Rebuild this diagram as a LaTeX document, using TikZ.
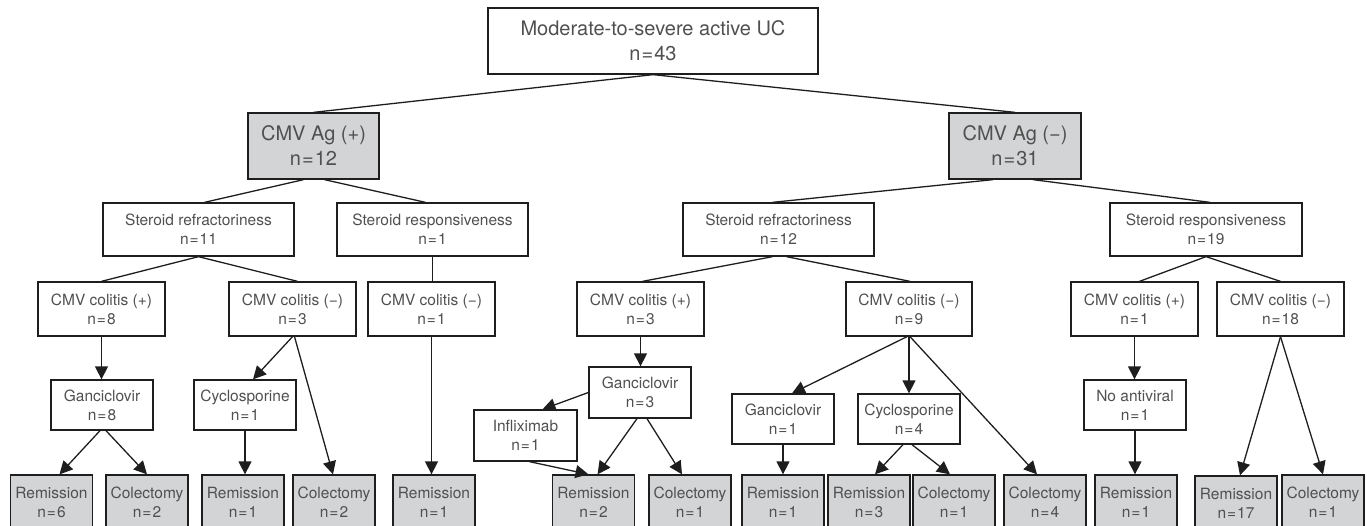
\documentclass[tikz,border=0pt]{standalone}
\usepackage{fontspec}
\setmainfont{TeX Gyre Heros}
\usetikzlibrary{arrows.meta}
\definecolor{boxgray}{RGB}{211,212,214}
\definecolor{txt}{RGB}{80,80,80}
\definecolor{ln}{RGB}{30,30,30}
\newcommand\myeq{\kern1pt=\kern1pt}
\begin{document}
\begin{tikzpicture}[x=1pt,y=-1pt,
 box/.style={draw=ln, line width=1.3pt, inner sep=0pt, align=center, text=txt, font=\fontsize{15.5}{19}\selectfont},
 big/.style={box, font=\fontsize{20}{25}\selectfont, minimum height=66pt},
 shade/.style={fill=boxgray},
 lvl/.style={box, minimum width=191pt, minimum height=53pt},
 cc/.style={box, minimum width=127pt, minimum height=54pt},
 trt/.style={box, minimum width=102pt, minimum height=50pt},
 leaf/.style={box, shade, minimum width=82pt, minimum height=54pt},
 conn/.style={draw=ln, line width=1.3pt},
 arr/.style={conn, -{Triangle[width=13pt,length=13pt]}},
]
\useasboundingbox (0,0) rectangle (1367,525);

% level 1-2
\node[big, minimum width=330pt] (top) at (653,41) {Moderate-to-severe active UC\\n\myeq43};
\node[big, shade, minimum width=131pt] (agp) at (313.5,146) {CMV Ag (+)\\n\myeq12};
\node[big, shade, minimum width=132pt] (agn) at (1015,146) {CMV Ag (−)\\n\myeq31};

% level 3
\node[lvl] (sr11) at (198.5,229.5) {Steroid refractoriness\\n\myeq11};
\node[lvl] (sp1) at (432.5,229.5) {Steroid responsiveness\\n\myeq1};
\node[lvl] (sr12) at (778.5,229.5) {Steroid refractoriness\\n\myeq12};
\node[lvl, minimum width=192pt] (sp19) at (1206,229.5) {Steroid responsiveness\\n\myeq19};

% level 4
\node[cc] (cc8) at (101.5,309) {CMV colitis (+)\\n\myeq8};
\node[cc] (cc3) at (292.5,309) {CMV colitis (−)\\n\myeq3};
\node[cc] (cc1) at (431.5,309) {CMV colitis (−)\\n\myeq1};
\node[cc] (ccp3) at (640.5,309) {CMV colitis (+)\\n\myeq3};
\node[cc, minimum width=126pt] (cc9) at (909,309) {CMV colitis (−)\\n\myeq9};
\node[cc] (ccp1) at (1134.5,309) {CMV colitis (+)\\n\myeq1};
\node[cc] (cc18) at (1280.5,309) {CMV colitis (−)\\n\myeq18};

% level 5
\node[trt] (gan8) at (102,405) {Ganciclovir\\n\myeq8};
\node[trt] (cyc1) at (245,405) {Cyclosporine\\n\myeq1};
\node[trt, minimum height=51pt] (gan3) at (640,392.5) {Ganciclovir\\n\myeq3};
\node[trt, minimum width=103pt, minimum height=51pt] (inf1) at (525.5,435.5) {Infliximab\\n\myeq1};
\node[trt] (gan1) at (783,419) {Ganciclovir\\n\myeq1};
\node[trt] (cyc4) at (909,419) {Cyclosporine\\n\myeq4};
\node[trt] (noav) at (1135,405) {No antiviral\\n\myeq1};

% leaves
\node[leaf] (rem6) at (51.5,502) {Remission\\n\myeq6};
\node[leaf] (col2) at (147,502) {Colectomy\\n\myeq2};
\node[leaf] (rem1) at (243,502) {Remission\\n\myeq1};
\node[leaf] (col2b) at (334,502) {Colectomy\\n\myeq2};
\node[leaf] (rem1b) at (434,502) {Remission\\n\myeq1};
\node[leaf] (rem2) at (593.5,502) {Remission\\n\myeq2};
\node[leaf] (col1) at (690,502) {Colectomy\\n\myeq1};
\node[leaf] (rem1c) at (783,502) {Remission\\n\myeq1};
\node[leaf] (rem3) at (869,502) {Remission\\n\myeq3};
\node[leaf] (col1b) at (954,502) {Colectomy\\n\myeq1};
\node[leaf] (col4) at (1045,502) {Colectomy\\n\myeq4};
\node[leaf] (rem1d) at (1136,502) {Remission\\n\myeq1};
\node[leaf] (rem17) at (1236,503) {Remission\\n\myeq17};
\node[leaf] (col1c) at (1323,502) {Colectomy\\n\myeq1};

% plain connectors
\draw[conn] (top.south) -- (agp.north);
\draw[conn] (top.south) -- (agn.north);
\draw[conn] ([xshift=-10pt]agp.south) -- ([xshift=6pt]sr11.north);
\draw[conn] ([xshift=11pt]agp.south) -- ([xshift=-7pt]sp1.north);
\draw[conn] ([xshift=-22pt]agn.south) -- ([xshift=-6pt]sr12.north);
\draw[conn] ([xshift=18pt]agn.south) -- ([xshift=4pt]sp19.north);
\draw[conn] (sr11.south) -- (cc8.north);
\draw[conn] (sr11.south) -- ([xshift=5pt]cc3.north);
\draw[conn] (sp1.south) -- (sp1.south |- cc1.north);
\draw[conn] ([xshift=-6pt]sr12.south) -- ([xshift=2pt]ccp3.north);
\draw[conn] ([xshift=8pt]sr12.south) -- ([xshift=1pt]cc9.north);
\draw[conn] (sp19.south) -- ([xshift=5pt]ccp1.north);
\draw[conn] (sp19.south) -- (cc18.north);

% arrows
\draw[arr] (cc8.south) -- (cc8.south |- gan8.north);
\draw[arr] ([xshift=-2pt]gan8.south) -- ([xshift=8pt]rem6.north);
\draw[arr] ([xshift=4pt]gan8.south) -- (col2.north);
\draw[arr] (cc3.south) -- ([xshift=8pt]cyc1.north);
\draw[arr] ([xshift=2pt]cc3.south) -- ([xshift=-1pt]col2b.north);
\draw[arr] (cyc1.south) -- (cyc1.south |- rem1.north);
\draw[arr] (cc1.south) -- (cc1.south |- rem1b.north);
\draw[arr] (ccp3.south) -- (ccp3.south |- gan3.north);
\draw[arr] (gan3.west) -- ([xshift=17pt]inf1.north);
\draw[arr] ([xshift=4pt]inf1.south) -- ([xshift=-5pt]rem2.north);
\draw[arr] ([xshift=-3pt]gan3.south) -- ([xshift=4pt]rem2.north);
\draw[arr] ([xshift=7pt]gan3.south) -- ([xshift=-8pt]col1.north);
\draw[arr] ([xshift=-2pt]cc9.south) -- ([xshift=9pt]gan1.north);
\draw[arr] (cc9.south) -- (cc9.south |- cyc4.north);
\draw[arr] ([xshift=1pt]cc9.south) -- ([xshift=-8pt]col4.north);
\draw[arr] (gan1.south) -- (gan1.south |- rem1c.north);
\draw[arr] ([xshift=-6pt]cyc4.south) -- ([xshift=6pt]rem3.north);
\draw[arr] ([xshift=3pt]cyc4.south) -- ([xshift=-4pt]col1b.north);
\draw[arr] (ccp1.south) -- (ccp1.south |- noav.north);
\draw[arr] (noav.south) -- (noav.south |- rem1d.north);
\draw[arr] (cc18.south) -- ([xshift=4pt]rem17.north);
\draw[arr] (cc18.south) -- (col1c.north);
\end{tikzpicture}
\end{document}
